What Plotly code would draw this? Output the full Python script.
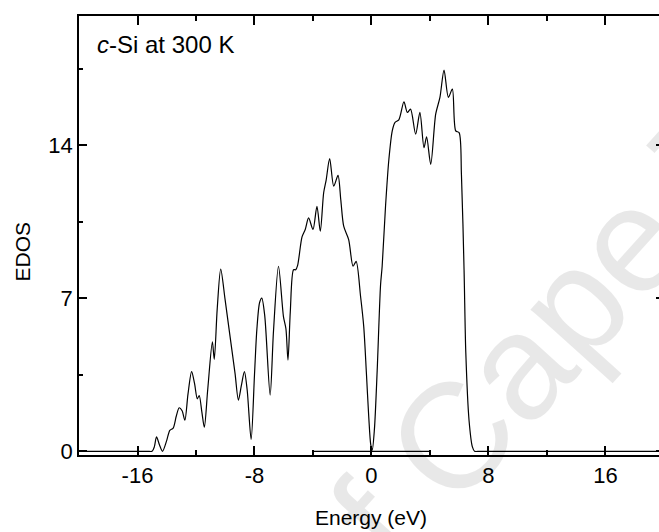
import plotly.graph_objects as go

# Energy (eV) and EDOS values
energy = [-20, -16.0, -15.3, -15.0, -14.85, -14.7, -14.5, -14.29, -14.0, -13.79, -13.56, -13.35, -13.15,
          -12.95, -12.76, -12.55, -12.30, -12.1, -11.91, -11.78, -11.6, -11.43, -11.2,
          -10.88, -10.75, -10.55, -10.31, -10.01, -9.67, -9.33, -9.10, -8.9, -8.69,
          -8.5, -8.23, -8.0, -7.84, -7.65, -7.50, -7.3, -6.93, -6.7, -6.36, -6.02,
          -5.85, -5.71, -5.55, -5.33, -5.18, -5.05, -4.75, -4.53, -4.30, -4.0, -3.73,
          -3.50, -3.27, -3.1, -2.86, -2.58, -2.29, -2.1, -1.90, -1.56, -1.26, -1.05,
          -0.75, -0.53, -0.35, -0.19, -0.05, 0.05, 0.2, 0.39, 0.62, 0.73, 0.96, 1.19,
          1.42, 1.60, 1.87, 2.22, 2.45, 2.67, 3.02, 3.31, 3.59, 3.77, 4.05, 4.39, 4.68,
          4.96, 5.26, 5.53, 5.76, 5.99, 6.15, 6.33, 6.45, 6.67, 6.9, 7.05, 7.4, 8.5, 20]
edos = [0, 0, 0, 0, 0.2, 0.66, 0.3, 0.0, 0.5, 0.96, 1.06, 1.6, 1.99,
        1.85, 1.42, 2.6, 3.64, 3.1, 2.4, 2.55, 1.8, 1.1, 2.8,
        5.0, 4.2, 6.5, 8.33, 6.93, 5.24, 3.56, 2.34, 3.0, 3.64,
        2.8, 0.54, 3.5, 5.55, 6.8, 7.0, 6.2, 2.57, 5.5, 8.46, 6.16,
        5.6, 4.17, 6.4, 8.3, 8.3, 8.5, 9.8, 10.14, 10.67, 10.14, 11.2,
        10.06, 11.82, 12.4, 13.38, 12.12, 12.61, 11.5, 10.29, 9.68, 8.46, 8.68,
        7.1, 5.7, 3.6, 1.6, 0.3, 0.05, 1.0, 3.7, 7.6, 8.46, 11.2, 13.35,
        14.65, 15.03, 15.15, 15.98, 15.49, 15.64, 14.5, 15.49, 13.88, 14.37, 13.12, 15.41, 16.18,
        17.43, 16.18, 16.56, 14.65, 14.57, 12.66, 8.3, 4.5, 1.42, 0.2, 0, 0, 0, 0]

gap_x = [-4, 4]
gap_y = [0, 0]

x_ticks = [-16, -8, 0, 8, 16]
y_ticks = [0, 7, 14]

FONT = "Liberation Sans, Arial, Helvetica, sans-serif"

fig = go.Figure()
fig.add_trace(go.Scatter(x=energy, y=edos, mode="lines",
                         line=dict(color="black", width=1.2, shape="spline", smoothing=0.8),
                         hoverinfo="skip", showlegend=False))
fig.add_trace(go.Scatter(x=gap_x, y=gap_y, mode="lines",
                         line=dict(color="black", width=1.2),
                         hoverinfo="skip", showlegend=False))
fig.add_trace(go.Scatter(x=[-20], y=[0], yaxis="y2", mode="markers",
                         marker=dict(opacity=0), hoverinfo="skip", showlegend=False))

fig.update_layout(
    width=659, height=532,
    margin=dict(l=79, r=0, t=16, b=77),
    paper_bgcolor="white", plot_bgcolor="white",
    font=dict(family=FONT, color="black"),
    xaxis=dict(range=[-20, 19.66], tickvals=x_ticks, ticktext=[str(v) for v in x_ticks],
               ticks="inside", ticklen=9, tickwidth=1.5, tickcolor="black",
               showline=True, linewidth=1.8, linecolor="black", mirror="ticks",
               minor=dict(tickvals=[-12, -4, 4, 12], ticks="inside", ticklen=5,
                          tickwidth=1.5, tickcolor="black", showgrid=False),
               showgrid=False, zeroline=False, tickfont=dict(size=22)),
    yaxis=dict(range=[-0.17, 19.9], tickvals=y_ticks, ticktext=[str(v) for v in y_ticks],
               ticks="inside", ticklen=8, tickwidth=1.5, tickcolor="black",
               showline=True, linewidth=1.8, linecolor="black",
               minor=dict(tickvals=[3.5, 10.5, 17.5], ticks="inside", ticklen=4,
                          tickwidth=1.5, tickcolor="black", showgrid=False),
               showgrid=False, zeroline=False, tickfont=dict(size=22)),
    yaxis2=dict(range=[-0.17, 19.9], overlaying="y", side="right", tickvals=y_ticks,
                ticks="inside", ticklen=3, tickwidth=1.5, tickcolor="black",
                showline=False, showticklabels=False, showgrid=False, zeroline=False),
    annotations=[
        dict(text="of Cape Town", xref="paper", yref="paper", x=(610 - 79) / 580,
             y=(455 - 262) / 439, xanchor="center", yanchor="middle", textangle=-48,
             showarrow=False, font=dict(size=150, color="rgba(0,0,0,0.09)", family=FONT)),
        dict(text="<i>c</i>-Si at 300 K", xref="paper", yref="paper",
             x=(95 - 79) / 580, y=(455 - 44) / 439, xanchor="left", yanchor="middle",
             showarrow=False, font=dict(size=24)),
        dict(text="Energy (eV)", xref="x", yref="paper", x=0, y=(455 - 517) / 439,
             xanchor="center", yanchor="middle", showarrow=False, font=dict(size=21)),
        dict(text="EDOS", xref="paper", yref="paper", x=(22 - 79) / 580,
             y=(455 - 251.5) / 439, xanchor="center", yanchor="middle", textangle=-90,
             showarrow=False, font=dict(size=21)),
    ],
)

fig.write_html("out.html")
